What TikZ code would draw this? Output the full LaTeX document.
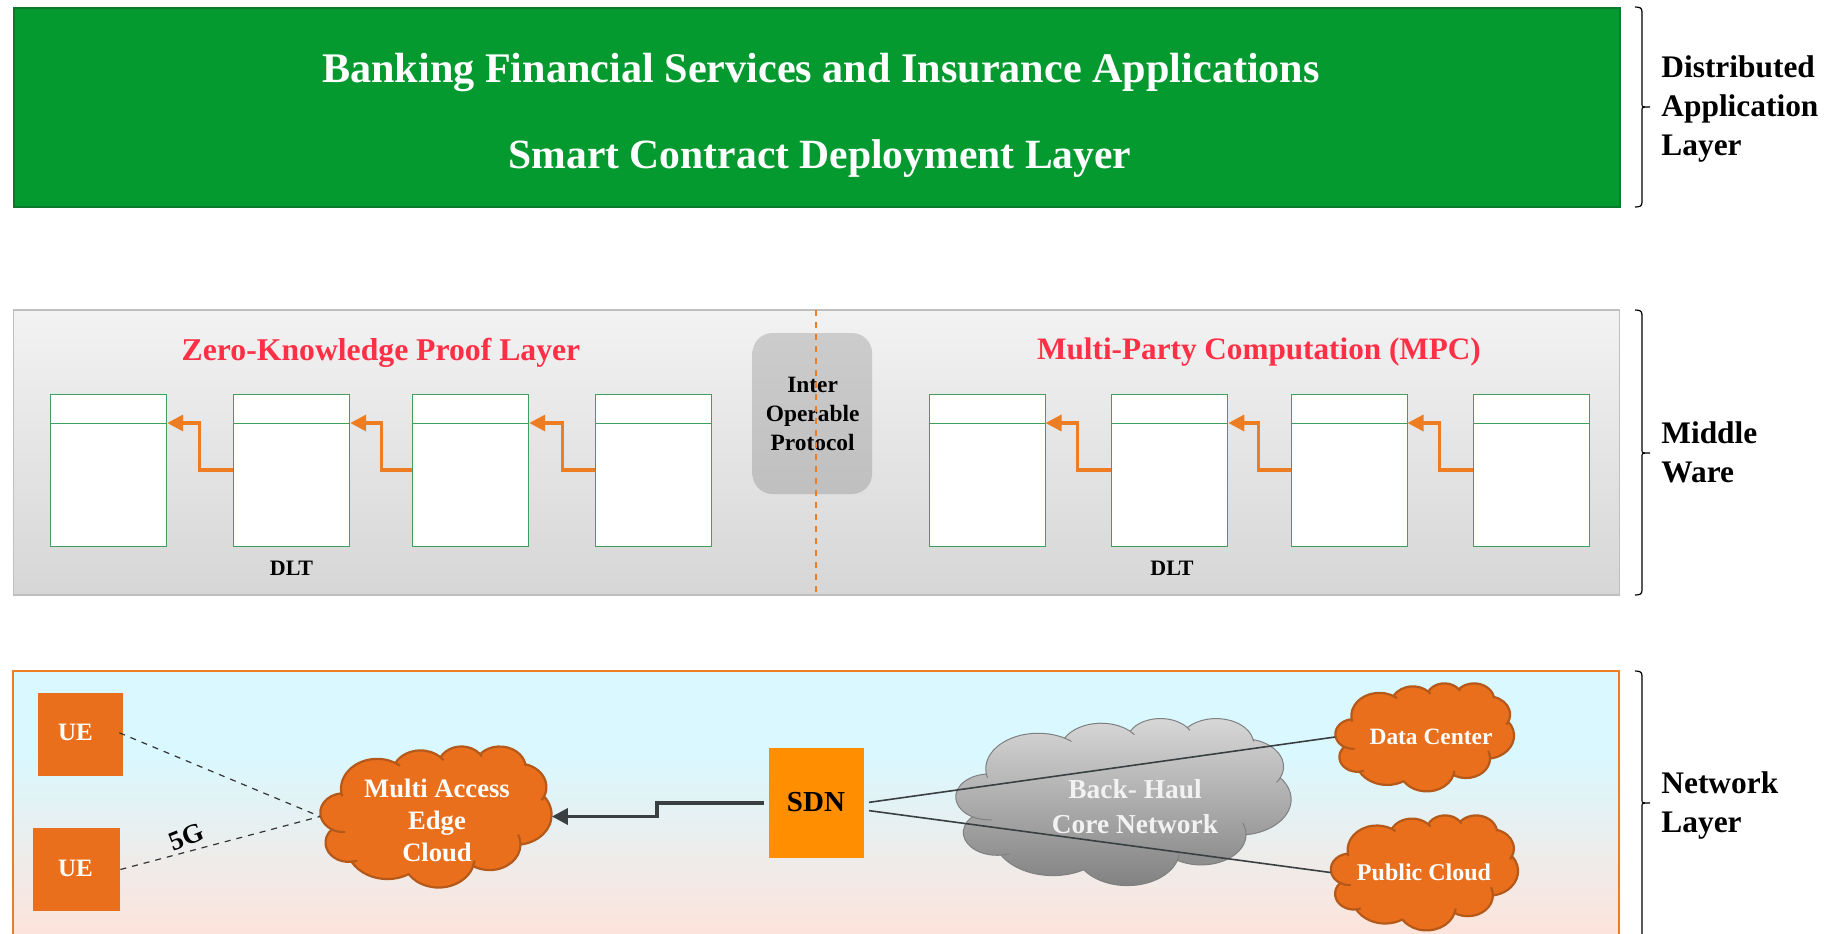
\documentclass[tikz,border=0pt]{standalone}
\usepackage{fontspec}
\setmainfont{Liberation Serif}
\usetikzlibrary{arrows.meta,calc}
\definecolor{bfgreen}{HTML}{049A2F}
\definecolor{bfgreenedge}{HTML}{0B7A2C}
\definecolor{cloudorange}{HTML}{E96F1C}
\definecolor{cloudedge}{HTML}{B5591A}
\definecolor{tablegreen}{HTML}{3F9F5C}
\definecolor{linkorange}{HTML}{ED7D23}
\definecolor{titlered}{HTML}{FF3046}
\definecolor{sdnorange}{HTML}{FF8F00}
\definecolor{darklink}{HTML}{3A4042}
\definecolor{netblue}{HTML}{D9F8FF}
\definecolor{netpink}{HTML}{FCE4DC}
\pgfdeclareverticalshading{netfade}{100bp}{color(0bp)=(netpink);color(29bp)=(netpink);color(60bp)=(netblue);color(75bp)=(netblue);color(100bp)=(netblue)}
% PowerPoint-style cloud, in a 432 x 432 box, built lobe by lobe
\gdef\CloudOutline{}\gdef\CloudDetail{}\gdef\curx{39}\gdef\cury{143.7}
\foreach \wr/\hr/\sa/\sw/\eb/\ef in {
 67.53/91.90/-190.487/123.781/9/8,
 53.33/72.67/-144.102/89.945/0/9,
 43.65/59.45/-145.808/99.723/0/9,
 48.57/65.95/-130.986/117.242/0/6,
 53.33/72.73/-78.709/109.027/0/12,
 67.75/92.20/-46.267/130.269/0/0,
 57.85/78.67/0.625/114.033/30/0,
 67.52/92.15/22.452/115.173/14/0,
 77.20/105.43/66.243/75.711/0/0,
 43.60/59.18/-274.942/146.736/11/0,
 43.45/59.45/-246.829/152.519/26/0}{
 \pgfmathsetmacro\ts{atan2(\wr*sin(\sa),\hr*cos(\sa))}
 \pgfmathsetmacro\te{atan2(\wr*sin(\sa+\sw),\hr*cos(\sa+\sw))}
 \pgfmathsetmacro\dt{mod(\te-\ts+720,360)}
 \pgfmathsetmacro\cx{\curx-\wr*cos(\ts)}
 \pgfmathsetmacro\cy{\cury-\hr*sin(\ts)}
 \xdef\CloudOutline{\CloudOutline arc[start angle=\ts,delta angle=\dt,x radius=\wr,y radius=\hr] }
 \pgfmathsetmacro\nx{\cx+\wr*cos(\te)}
 \pgfmathsetmacro\ny{\cy+\hr*sin(\te)}
 \ifdim\eb pt>0pt
  \pgfmathsetmacro\tb{atan2(\wr*sin(\sa-\eb),\hr*cos(\sa-\eb))}
  \pgfmathsetmacro\db{mod(\ts-\tb+720,360)}
  \pgfmathsetmacro\bx{\cx+\wr*cos(\tb)}
  \pgfmathsetmacro\by{\cy+\hr*sin(\tb)}
  \xdef\CloudDetail{\CloudDetail (\bx,\by) arc[start angle=\tb,delta angle=\db,x radius=\wr,y radius=\hr] }
 \fi
 \ifdim\ef pt>0pt
  \pgfmathsetmacro\tf{atan2(\wr*sin(\sa+\sw+\ef),\hr*cos(\sa+\sw+\ef))}
  \pgfmathsetmacro\df{mod(\tf-\te+720,360)}
  \xdef\CloudDetail{\CloudDetail (\nx,\ny) arc[start angle=\te,delta angle=\df,x radius=\wr,y radius=\hr] }
 \fi
 \xdef\curx{\nx}\xdef\cury{\ny}
}
% name, x1, y1, x2, y2, outline style, detail style
\newcommand\cloudat[7]{%
 \pgfmathsetmacro\cwd{(#4-#2)/432*0.5}\pgfmathsetmacro\cht{(#5-#3)/432*0.5}%
 \begin{scope}[shift={(#2,#3)},x=\cwd pt,y=-\cht pt]
  \draw[#6] (39,143.7) \CloudOutline -- cycle;
  \draw[#7] \CloudDetail;
 \end{scope}
 \pgfmathsetmacro\bw{(#4-#2)*0.5}\pgfmathsetmacro\bh{(#5-#3)*0.5}%
 \node[inner sep=0,minimum width=\bw pt,minimum height=\bh pt] (#1) at ({(#2+#4)/2},{(#3+#5)/2}) {};
}
\newcommand\layerbrace[3]{%
 \draw[line width=0.6pt] (1635,#1) .. controls (1640,#1) and (1642,#1+1) .. (1642,#1+5) -- (1642,#2-3)
  .. controls (1642,#2) .. (1650,#2) .. controls (1642,#2) .. (1642,#2+3) -- (1642,#3-5)
  .. controls (1642,#3-1) and (1640,#3) .. (1635,#3);}
\tikzset{
 txt/.style={inner sep=0,anchor=base},
 panelgrey/.style={draw=black!25,line width=0.75pt,top color=black!5,bottom color=black!16},
 tablebox/.style={draw=tablegreen,fill=white,line width=0.5pt,inner sep=0,minimum width=58pt,minimum height=76pt},
 headline/.style={draw=tablegreen,line width=0.5pt},
 chain/.style={draw=linkorange,line width=1.7pt,-{Triangle[length=8pt,width=8pt]}},
 uebox/.style={fill=cloudorange,inner sep=0},
 orangecloud/.style={draw=cloudedge,line width=1.1pt,fill=cloudorange},
 orangedetail/.style={draw=cloudedge,line width=1.1pt},
 greycloud/.style={draw=black!50,line width=0.5pt,top color=black!15,bottom color=black!50},
 greydetail/.style={draw=black!50,line width=0.5pt},
 ctext/.style={inner sep=0,anchor=base,align=center,text=white},
}
\newcommand\Tx[2]{\fontsize{#1}{#2}\selectfont\bfseries}
\begin{document}
\begin{tikzpicture}[x=0.5pt,y=-0.5pt]
\useasboundingbox (0,0) rectangle (1827,933);
\clip (0,0) rectangle (1827,933);
% application layer
\node[draw=bfgreenedge,fill=bfgreen,line width=1pt,inner sep=0,minimum width=803pt,minimum height=99.5pt] (app) at (816.5,107.5) {};
\node[txt,text=white,font=\Tx{21.1}{25}] (banking) at (821,82) {Banking Financial Services and Insurance Applications};
\node[txt,text=white,font=\Tx{20.8}{25}] (smart) at (820,168) {Smart Contract Deployment Layer};
% middleware layer
\node[panelgrey,inner sep=0,minimum width=803pt,minimum height=142.5pt] (mid) at (816.5,452.5) {};
\node[txt,text=titlered,font=\Tx{15.85}{20}] (zkp) at (381,360) {Zero-Knowledge Proof Layer};
\node[txt,text=titlered,font=\Tx{15.6}{20}] (mpc) at (1259,359) {Multi-Party Computation (MPC)};
\foreach \nm/\cxx in {l1/108.7,l2/291.7,l3/470.7,l4/653.3,r1/987,r2/1169.8,r3/1349,r4/1531.7}{
 \node[tablebox] (\nm) at (\cxx,470) {};
 \coordinate (\nm h) at ($(\nm.north east)+(0,29.5)$);
 \draw[headline] ($(\nm.north west)+(0,29.5)$) -- (\nm h);
}
\foreach \from/\to/\bend in {l2/l1/33.5,l3/l2/31,l4/l3/32.5,r2/r1/33.6,r3/r2/32,r4/r3/33.5}{
 \draw[chain] (\from.west) -- ++(-\bend,0) |- (\to h);
}
\node[txt,font=\Tx{11}{13}] (dltl) at (291.5,575.5) {DLT};
\node[txt,font=\Tx{11}{13}] (dltr) at (1172,575.5) {DLT};
\node[inner sep=0,rounded corners=10pt,top color=black!20,bottom color=black!25,minimum width=59.75pt,minimum height=80.5pt] (iop) at (812.3,413.5) {};
\node[ctext,text=black,font=\Tx{11.7}{14.6}] (ioptext) at (812.6,450.5) {Inter\\Operable\\Protocol};
\coordinate (divtop) at (816,310);
\coordinate (divbot) at (816,595);
\draw[linkorange,dashed,line width=0.6pt] (divtop) -- (divbot);
% network layer
\path[shade,shading=netfade,draw=linkorange,line width=0.75pt] (13,671) rectangle (1619,950);
\node[uebox,minimum width=42.5pt,minimum height=41.5pt] (ue1) at (80.5,734.5) {};
\node[uebox,minimum width=43.5pt,minimum height=41.5pt] (ue2) at (76.5,869.5) {};
\node[ctext,font=\Tx{12.5}{15}] (ue1t) at (75.5,740) {UE};
\node[ctext,font=\Tx{12.5}{15}] (ue2t) at (75.5,876) {UE};
\cloudat{mec}{320.5}{746}{551.5}{887}{orangecloud}{orangedetail}
\node[ctext,font=\Tx{13.3}{15.9}] (mect) at (437,861.5) {Multi Access\\Edge\\Cloud};
\node[fill=sdnorange,inner sep=0,minimum width=47.5pt,minimum height=55pt] (sdn) at (816.5,803) {};
\node[txt,font=\Tx{14.5}{16}] (sdnt) at (816,811) {SDN};
\draw[dashed,line width=0.6pt,black!80,shorten <=-2.2pt] (ue1.east) -- (mec.west);
\draw[dashed,line width=0.6pt,black!80] (ue2.east) -- (mec.west);
\node[inner sep=0,font=\Tx{13.5}{15},rotate=22] (fivegt) at (186.5,837) {5G};
\draw[darklink,line width=1.7pt,-{Triangle[length=8pt,width=8pt]},shorten <=2.5pt] (sdn.west) -- ++(-111.5,0) |- (mec.east);
\cloudat{bh}{956}{718}{1291}{885}{greycloud}{greydetail}
\cloudat{dc}{1335.5}{683}{1514}{791}{orangecloud}{orangedetail}
\cloudat{pc}{1331}{815}{1518}{930}{orangecloud}{orangedetail}
\coordinate (sdnlow) at ($(sdn.east)+(0,7)$);
\draw[darklink,line width=0.8pt,shorten <=2.3pt] (sdn.east) -- (dc.west);
\draw[darklink,line width=0.8pt,shorten <=2.3pt] (sdnlow) -- (pc.west);
\node[ctext,text=black!5,font=\Tx{13.7}{17.2}] (bht) at (1135,833) {Back- Haul\\Core Network};
\node[ctext,font=\Tx{11.7}{14}] (dct) at (1431,744) {Data Center};
\node[ctext,font=\Tx{12}{14}] (pct) at (1424,880) {Public Cloud};
% layer braces and labels
\layerbrace{7}{107}{207}
\layerbrace{310}{453}{595}
\layerbrace{671}{803}{940}
\node[ctext,text=black,align=left,anchor=base west,font=\Tx{15.7}{19.4}] (lab1) at (1661,155.5) {Distributed\\Application\\Layer};
\node[ctext,text=black,align=left,anchor=base west,font=\Tx{15.7}{19.4}] (lab2) at (1661,482.5) {Middle\\Ware};
\node[ctext,text=black,align=left,anchor=base west,font=\Tx{15.7}{19.4}] (lab3) at (1661,832.5) {Network\\Layer};
\end{tikzpicture}
\end{document}
